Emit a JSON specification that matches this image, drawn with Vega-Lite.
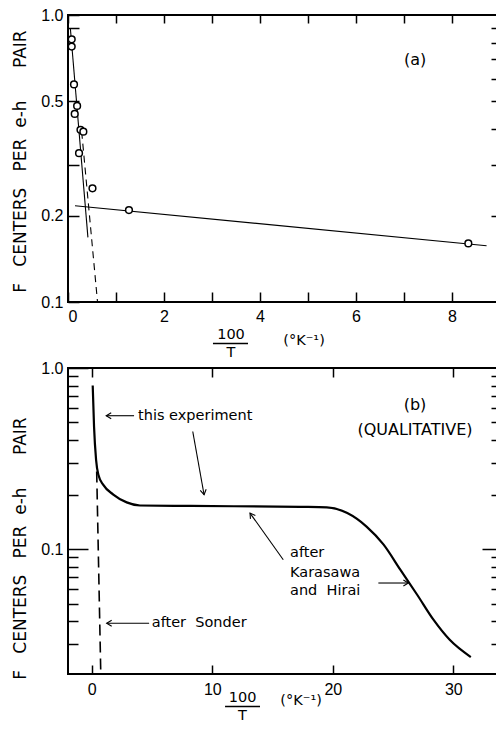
{
  "$schema": "https://vega.github.io/schema/vega-lite/v6.json",
  "background": "white",
  "padding": {"left": 10, "top": 6, "right": 0, "bottom": 0},
  "bounds": "flush",
  "spacing": 66,
  "datasets": {
    "a_pts": [{"x":0.077,"y":0.823},{"x":0.077,"y":0.776},{"x":0.125,"y":0.573},{"x":0.19,"y":0.482},{"x":0.14,"y":0.452},{"x":0.26,"y":0.398},{"x":0.32,"y":0.392},{"x":0.23,"y":0.33},{"x":0.51,"y":0.249},{"x":1.27,"y":0.209},{"x":8.34,"y":0.16}],
    "a_flat": [{"x":0.146,"y":0.2165},{"x":8.72,"y":0.157}],
    "a_steep": [{"x":0.05,"y":0.895},{"x":0.415,"y":0.168}],
    "a_dash": [{"x":0.285,"y":0.392},{"x":0.615,"y":0.1}],
    "a_lbl": [{"x":7.23,"y":0.697,"text":"(a)"}],
    "a_xt": [{"x":3.396,"y":0.0767,"text":"100"},{"x":3.396,"y":0.0662,"text":"T"},{"x":4.917,"y":0.0731,"text":"(°K⁻¹)"}],
    "a_bar": [{"x":3.02,"x2":3.75,"y":0.0717}],
    "b_curve": [{"x":0.08,"y":0.8},{"x":0.19,"y":0.476},{"x":0.36,"y":0.311},{"x":0.55,"y":0.257},{"x":0.96,"y":0.226},{"x":1.79,"y":0.2},{"x":2.9,"y":0.181},{"x":4.0,"y":0.174},{"x":8.2,"y":0.173},{"x":17.3,"y":0.171},{"x":19.5,"y":0.17},{"x":21.2,"y":0.158},{"x":22.8,"y":0.133},{"x":24.2,"y":0.106},{"x":25.6,"y":0.0769},{"x":27.0,"y":0.0559},{"x":28.35,"y":0.0407},{"x":29.7,"y":0.0315},{"x":31.45,"y":0.0253}],
    "b_dash": [{"x":0.41,"y":0.268},{"x":0.75,"y":0.0204}],
    "b_arrows": [{"id":"exp_h","x":3.51,"y":0.545,"x2":1.2,"y2":0.545},{"id":"exp_d","x":8.38,"y":0.446,"x2":9.32,"y2":0.1995},{"id":"sonder","x":4.76,"y":0.0389,"x2":1.24,"y2":0.0389},{"id":"kh_up","x":15.89,"y":0.0873,"x2":13.13,"y2":0.158},{"id":"kh_right","x":23.78,"y":0.0649,"x2":26.27,"y2":0.0649}],
    "b_ltext": [{"x":3.84,"y":0.545,"text":"this experiment"},{"x":4.98,"y":0.0389,"text":"after\u00a0 Sonder"},{"x":16.45,"y":0.0948,"text":"after"},{"x":16.45,"y":0.0735,"text":"Karasawa"},{"x":16.45,"y":0.0585,"text":"and\u00a0 Hirai"}],
    "b_ctext": [{"x":26.82,"y":0.627,"text":"(b)"},{"x":26.82,"y":0.456,"text":"(QUALITATIVE)"}],
    "b_xt": [{"x":12.51,"y":0.01509,"text":"100"},{"x":12.51,"y":0.012,"text":"T"},{"x":17.37,"y":0.01452,"text":"(°K⁻¹)"}],
    "b_bar": [{"x":11.06,"x2":13.96,"y":0.0135}]
  },
  "vconcat": [
    {
      "width": 430,
      "height": 287,
      "resolve": {"axis": {"x": "independent", "y": "independent"}},
      "layer": [
        {
          "data": {"name": "a_flat"},
          "mark": {"type": "line", "color": "black", "strokeWidth": 1.1},
          "encoding": {
            "x": {"field": "x", "type": "quantitative", "scale": {"domain": [0, 8.958], "nice": false, "zero": false},
              "axis": {"orient": "bottom", "values": [0,1,2,3,4,5,6,7,8], "labelExpr": "datum.value % 2 === 0 ? datum.label : ''", "tickSize": -10, "labelPadding": 16, "title": null}},
            "y": {"field": "y", "type": "quantitative", "scale": {"type": "log", "domain": [0.1, 1], "nice": false},
              "axis": {"orient": "left", "values": [0.1,0.2,0.3,0.5,0.9,1], "labelExpr": "(datum.value === 0.3 || datum.value === 0.9) ? '' : format(datum.value, '.1f')", "tickSize": -11, "labelPadding": 16, "title": "F\u00a0\u00a0 CENTERS\u00a0\u00a0 PER\u00a0 e-h\u00a0\u00a0\u00a0\u00a0\u00a0 PAIR", "titlePadding": 11, "titleY": 146}}
          }
        },
        {
          "data": {"name": "a_steep"},
          "mark": {"type": "line", "color": "black", "strokeWidth": 1.1},
          "encoding": {
            "x": {"field": "x", "type": "quantitative", "scale": {"domain": [0, 8.958], "nice": false, "zero": false},
              "axis": {"orient": "top", "values": [0,1,2,3,4,5,6,7,8], "tickSize": -8, "labels": false, "title": null}},
            "y": {"field": "y", "type": "quantitative", "scale": {"type": "log", "domain": [0.1, 1], "nice": false},
              "axis": {"orient": "right", "values": [0.2,0.3,0.4,0.5,0.6,0.7,0.8,0.9], "tickSize": -7, "labels": false, "title": null}}
          }
        },
        {
          "data": {"name": "a_dash"},
          "mark": {"type": "line", "color": "black", "strokeWidth": 1.1, "strokeDash": [7, 5]},
          "encoding": {
            "x": {"field": "x", "type": "quantitative", "axis": null},
            "y": {"field": "y", "type": "quantitative", "axis": null}
          }
        },
        {
          "data": {"name": "a_pts"},
          "mark": {"type": "point", "shape": "circle", "filled": true, "fill": "white", "stroke": "black", "strokeWidth": 1.5, "size": 45, "opacity": 1},
          "encoding": {
            "x": {"field": "x", "type": "quantitative", "axis": null},
            "y": {"field": "y", "type": "quantitative", "axis": null}
          }
        },
        {
          "data": {"name": "a_lbl"},
          "mark": {"type": "text", "font": "DejaVu Sans", "fontSize": 16, "color": "black", "align": "center", "baseline": "middle"},
          "encoding": {
            "x": {"field": "x", "type": "quantitative", "axis": null},
            "y": {"field": "y", "type": "quantitative", "axis": null},
            "text": {"field": "text"}
          }
        },
        {
          "data": {"name": "a_xt"},
          "mark": {"type": "text", "font": "DejaVu Sans", "fontSize": 14.5, "color": "black", "align": "center", "baseline": "middle"},
          "encoding": {
            "x": {"field": "x", "type": "quantitative", "axis": null},
            "y": {"field": "y", "type": "quantitative", "axis": null},
            "text": {"field": "text"}
          }
        },
        {
          "data": {"name": "a_bar"},
          "mark": {"type": "rule", "color": "black", "strokeWidth": 1.5},
          "encoding": {
            "x": {"field": "x", "type": "quantitative", "axis": null},
            "x2": {"field": "x2"},
            "y": {"field": "y", "type": "quantitative", "axis": null}
          }
        }
      ]
    },
    {
      "width": 430,
      "height": 306,
      "resolve": {"axis": {"x": "independent", "y": "independent"}},
      "layer": [
        {
          "data": {"name": "b_curve"},
          "mark": {"type": "line", "color": "black", "strokeWidth": 2.2, "interpolate": "monotone"},
          "encoding": {
            "x": {"field": "x", "type": "quantitative", "scale": {"domain": [-1.97, 33.706], "nice": false, "zero": false},
              "axis": {"orient": "bottom", "values": [0,10,20,30], "tickSize": -9, "labelPadding": 16, "title": null}},
            "y": {"field": "y", "type": "quantitative", "scale": {"type": "log", "domain": [0.0204, 1], "nice": false},
              "axis": {"orient": "left", "values": [0.1, 1], "labelExpr": "format(datum.value, '.1f')", "tickSize": -20, "labelPadding": 25, "title": "F\u00a0\u00a0 CENTERS\u00a0\u00a0 PER\u00a0 e-h\u00a0\u00a0\u00a0\u00a0\u00a0 PAIR", "titlePadding": 11, "titleY": 180}}
          }
        },
        {
          "data": {"name": "b_dash"},
          "mark": {"type": "line", "color": "black", "strokeWidth": 1.6, "strokeDash": [11, 6]},
          "encoding": {
            "x": {"field": "x", "type": "quantitative", "scale": {"domain": [-1.97, 33.706], "nice": false, "zero": false},
              "axis": {"orient": "top", "values": [0,10,20,30], "tickSize": -9, "labels": false, "title": null}},
            "y": {"field": "y", "type": "quantitative", "scale": {"type": "log", "domain": [0.0204, 1], "nice": false},
              "axis": {"orient": "left", "values": [0.03,0.04,0.05,0.06,0.07,0.08,0.09,0.2,0.3,0.4,0.5,0.6,0.7,0.8,0.9], "tickSize": -10, "labels": false, "title": null}}
          }
        },
        {
          "data": {"name": "b_arrows"},
          "mark": {"type": "rule", "color": "black", "strokeWidth": 1.1},
          "encoding": {
            "x": {"field": "x", "type": "quantitative", "axis": null},
            "y": {"field": "y", "type": "quantitative",
              "axis": {"orient": "right", "values": [0.03,0.04,0.05,0.06,0.07,0.08,0.09,0.1,0.2,0.3,0.4,0.5,0.6,0.7,0.8,0.9], "tickSize": {"condition": {"test": "datum.value === 0.1", "value": -16}, "value": -7}, "labels": false, "title": null}},
            "x2": {"field": "x2"},
            "y2": {"field": "y2"}
          }
        },
        {
          "data": {"name": "b_arrows"},
          "transform": [{"filter": "datum.id === 'exp_h' || datum.id === 'sonder'"}],
          "mark": {"type": "point", "shape": "M1,-0.6L0,0L1,0.6", "filled": false, "stroke": "black", "strokeWidth": 1.1, "size": 100, "opacity": 1, "angle": 0},
          "encoding": {
            "x": {"field": "x2", "type": "quantitative", "axis": null},
            "y": {"field": "y2", "type": "quantitative", "axis": null}
          }
        },
        {
          "data": {"name": "b_arrows"},
          "transform": [{"filter": "datum.id === 'exp_d'"}],
          "mark": {"type": "point", "shape": "M1,-0.6L0,0L1,0.6", "filled": false, "stroke": "black", "strokeWidth": 1.1, "size": 100, "opacity": 1, "angle": 260},
          "encoding": {
            "x": {"field": "x2", "type": "quantitative", "axis": null},
            "y": {"field": "y2", "type": "quantitative", "axis": null}
          }
        },
        {
          "data": {"name": "b_arrows"},
          "transform": [{"filter": "datum.id === 'kh_up'"}],
          "mark": {"type": "point", "shape": "M1,-0.6L0,0L1,0.6", "filled": false, "stroke": "black", "strokeWidth": 1.1, "size": 100, "opacity": 1, "angle": 54.5},
          "encoding": {
            "x": {"field": "x2", "type": "quantitative", "axis": null},
            "y": {"field": "y2", "type": "quantitative", "axis": null}
          }
        },
        {
          "data": {"name": "b_arrows"},
          "transform": [{"filter": "datum.id === 'kh_right'"}],
          "mark": {"type": "point", "shape": "M1,-0.6L0,0L1,0.6", "filled": false, "stroke": "black", "strokeWidth": 1.1, "size": 100, "opacity": 1, "angle": 180},
          "encoding": {
            "x": {"field": "x2", "type": "quantitative", "axis": null},
            "y": {"field": "y2", "type": "quantitative", "axis": null}
          }
        },
        {
          "data": {"name": "b_ltext"},
          "mark": {"type": "text", "font": "DejaVu Sans", "fontSize": 14.5, "color": "black", "align": "left", "baseline": "middle"},
          "encoding": {
            "x": {"field": "x", "type": "quantitative", "axis": null},
            "y": {"field": "y", "type": "quantitative", "axis": null},
            "text": {"field": "text"}
          }
        },
        {
          "data": {"name": "b_ctext"},
          "mark": {"type": "text", "font": "DejaVu Sans", "fontSize": 16, "color": "black", "align": "center", "baseline": "middle"},
          "encoding": {
            "x": {"field": "x", "type": "quantitative", "axis": null},
            "y": {"field": "y", "type": "quantitative", "axis": null},
            "text": {"field": "text"}
          }
        },
        {
          "data": {"name": "b_xt"},
          "mark": {"type": "text", "font": "DejaVu Sans", "fontSize": 14.5, "color": "black", "align": "center", "baseline": "middle"},
          "encoding": {
            "x": {"field": "x", "type": "quantitative", "axis": null},
            "y": {"field": "y", "type": "quantitative", "axis": null},
            "text": {"field": "text"}
          }
        },
        {
          "data": {"name": "b_bar"},
          "mark": {"type": "rule", "color": "black", "strokeWidth": 1.5},
          "encoding": {
            "x": {"field": "x", "type": "quantitative", "axis": null},
            "x2": {"field": "x2"},
            "y": {"field": "y", "type": "quantitative", "axis": null}
          }
        }
      ]
    }
  ],
  "config": {
    "view": {"stroke": "black", "strokeWidth": 2},
    "axis": {"domain": false, "grid": false, "ticks": true, "zindex": 1, "tickOpacity": 1, "tickColor": "black", "tickWidth": 1.5, "labelColor": "black", "labelFont": "Liberation Sans", "labelFontSize": 16, "titleFont": "DejaVu Sans", "titleFontSize": 17, "titleFontWeight": "normal", "titleColor": "black"}
  }
}
